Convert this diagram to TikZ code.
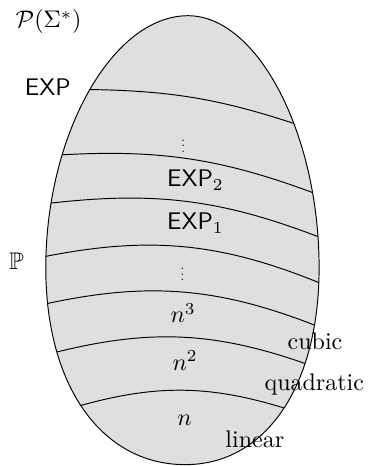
\documentclass[tikz,border=0pt]{standalone}
\usepackage{amssymb}
\usetikzlibrary{positioning}
\tikzset{
  region/.style={draw=black, fill=gray!25},
  layer/.style={draw=black},
  dots/.style={scale=0.55, inner sep=0pt}
}
\newcommand{\eggpath}{(t) .. controls +(1.02,0) and +(0,1.96) .. (r)
  .. controls +(0,-1.73) and +(1.18,0) .. (b)
  .. controls +(-1.22,0) and +(0,-1.73) .. (l)
  .. controls +(0,1.96) and +(-1.10,0) .. (t) -- cycle}

\begin{document}
\begin{tikzpicture}
  \useasboundingbox (0,0) rectangle (5.39,6.82);
  \coordinate (t) at (2.75,6.59);
  \coordinate (r) at (4.67,2.90);
  \coordinate (b) at (2.71,0.02);
  \coordinate (l) at (0.67,2.90);

  \fill[gray!25] \eggpath;
  \begin{scope}
    \clip \eggpath;
    \draw[layer] (1.24,5.51) to[bend left=9]  (4.43,4.97);
    \draw[layer] (0.83,4.55) to[bend left=12] (4.66,3.97);
    \draw[layer] (0.68,3.84) to[bend left=14] (4.75,3.32);
    \draw[layer] (0.58,3.05) to[bend left=17] (4.75,2.65);
    \draw[layer] (0.61,2.36) to[bend left=17] (4.66,2.04);
    \draw[layer] (0.76,1.65) to[bend left=17] (4.55,1.47);
    \draw[layer] (1.09,0.86) to[bend left=17] (4.28,0.81);
  \end{scope}
  \draw \eggpath;

  \node (pow) at (0.71,6.50) {$\mathcal{P}(\Sigma^*)$};
  \node (exp) at (0.70,5.54) {\textsf{EXP}};
  \node[dots] (dtop) at (2.68,4.74) {$\vdots$};
  \node[anchor=base] (exp2) at (2.86,4.09) {\textsf{EXP}$_2$};
  \node[anchor=base] (exp1) at (2.86,3.46) {\textsf{EXP}$_1$};
  \node (ptime) at (0.24,2.99) {$\mathbb{P}$};
  \node[dots] (dlow) at (2.67,2.86) {$\vdots$};
  \node (ncube) at (2.68,2.24) {$n^3$};
  \node (nsq) at (2.71,1.54) {$n^2$};
  \node (nlin) at (2.70,0.67) {$n$};

  \node (cubic) at (4.61,1.82) {cubic};
  \node (quadratic) at (4.60,1.19) {quadratic};
  \node (linear) at (3.73,0.39) {linear};
\end{tikzpicture}
\end{document}
